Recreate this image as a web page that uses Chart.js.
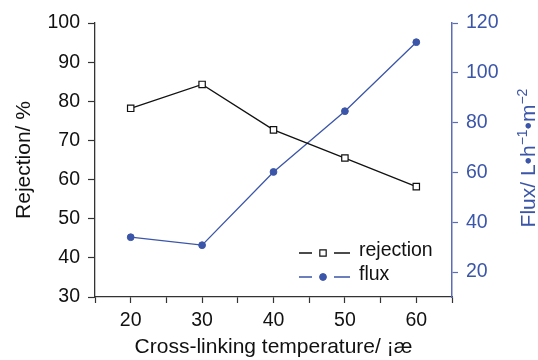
<!DOCTYPE html>
<html lang="en">
<head>
  <meta charset="UTF-8" />
  <title>Rejection and flux vs cross-linking temperature</title>
  <script src="https://cdn.jsdelivr.net/npm/chart.js"></script>
  <style>
    html, body { margin: 0; padding: 0; background: #fff; }
    #wrap { width: 538px; height: 360px; }
  </style>
</head>
<body>
  <div id="wrap"><canvas id="chart" width="538" height="360"></canvas></div>

  <script>
    // ---- data ----
    const temps = [20, 30, 40, 50, 60];
    const rejection = [78.2, 84.3, 72.7, 65.5, 58.2];
    const flux = [34.0, 30.8, 60.2, 84.6, 112.3];

    const xTitle = 'Cross-linking temperature/ \u00a1\u00e6';
    const leftTitle = 'Rejection/ %';
    // right title pieces: [text, superscript?]
    const rightTitle = [['Flux/ L\u2022h', false], ['\u22121', true], ['\u2022m', false], ['\u22122', true]];

    const BLACK = '#111111';
    const BLUE = '#3b55a8';
    const BLUE_AXIS = '#5b6db5';
    const FONT = 'Liberation Sans, Arial, sans-serif';
    const TICK_SIZE = 19.5;
    const TITLE_SIZE = 21;

    // legend drawn inside the plot, "— marker —  label"
    const innerLegend = {
      id: 'innerLegend',
      afterDraw(chart) {
        const ctx = chart.ctx;
        const rows = [253, 277];
        chart.data.datasets.forEach((ds, i) => {
          const y = rows[i];
          ctx.save();
          ctx.strokeStyle = ds.borderColor;
          ctx.lineWidth = 1.3;
          ctx.beginPath();
          ctx.moveTo(299, y); ctx.lineTo(312, y);
          ctx.moveTo(334, y); ctx.lineTo(350, y);
          ctx.stroke();
          ctx.fillStyle = ds.pointBackgroundColor;
          ctx.strokeStyle = ds.pointBorderColor;
          ctx.lineWidth = ds.pointBorderWidth;
          Chart.helpers.drawPoint(ctx, {
            pointStyle: ds.pointStyle, radius: ds.pointRadius, borderWidth: ds.pointBorderWidth
          }, 323, y);
          ctx.fillStyle = '#111';
          ctx.font = TICK_SIZE + 'px ' + FONT;
          ctx.textBaseline = 'middle';
          ctx.fillText(ds.label, 359, y - 2);
          ctx.restore();
        });
      }
    };

    // right-hand title reads bottom to top, with real superscripts
    const rightAxisTitle = {
      id: 'rightAxisTitle',
      afterDraw(chart) {
        const ctx = chart.ctx;
        const big = TITLE_SIZE + 'px ' + FONT;
        const small = '14px ' + FONT;
        ctx.save();
        let total = 0;
        rightTitle.forEach(([t, sup]) => { ctx.font = sup ? small : big; total += ctx.measureText(t).width; });
        ctx.translate(527, 158);
        ctx.rotate(-Math.PI / 2);
        ctx.fillStyle = BLUE;
        ctx.textBaseline = 'alphabetic';
        let x = -total / 2;
        rightTitle.forEach(([t, sup]) => {
          ctx.font = sup ? small : big;
          ctx.fillText(t, x, sup ? 0 : 7.5);
          x += ctx.measureText(t).width;
        });
        ctx.restore();
      }
    };

    new Chart(document.getElementById('chart'), {
      type: 'line',
      data: {
        datasets: [
          {
            label: 'rejection',
            data: temps.map((t, i) => ({ x: t, y: rejection[i] })),
            yAxisID: 'yL',
            borderColor: BLACK,
            borderWidth: 1.3,
            pointStyle: 'rect',
            pointRadius: 4.5,
            pointBorderWidth: 1.2,
            pointBackgroundColor: '#fff',
            pointBorderColor: BLACK,
            tension: 0
          },
          {
            label: 'flux',
            data: temps.map((t, i) => ({ x: t, y: flux[i] })),
            yAxisID: 'yR',
            borderColor: BLUE,
            borderWidth: 1.3,
            pointStyle: 'circle',
            pointRadius: 3.4,
            pointBorderWidth: 1,
            pointBackgroundColor: BLUE,
            pointBorderColor: BLUE,
            tension: 0
          }
        ]
      },
      options: {
        responsive: false,
        animation: false,
        layout: { padding: { top: 23, left: 0, right: 0, bottom: 0 } },
        plugins: {
          legend: { display: false },
          tooltip: { enabled: false }
        },
        scales: {
          x: {
            type: 'linear',
            min: 15, max: 65,
            afterFit(s) { s.height = 63; },
            ticks: {
              stepSize: 5,
              autoSkip: false,
              maxRotation: 0,
              padding: 6,
              color: '#111',
              font: { family: FONT, size: TICK_SIZE },
              callback: v => (v % 10 === 0 ? v : '')
            },
            grid: { drawOnChartArea: false, tickLength: 6, tickColor: '#333', tickWidth: 1.2 },
            border: { color: '#333', width: 1.3 },
            title: {
              display: true, text: xTitle, color: '#111',
              font: { family: FONT, size: TITLE_SIZE }, padding: { top: 0, bottom: 0 }
            }
          },
          yL: {
            position: 'left',
            min: 30, max: 100,
            afterFit(s) { s.width = 95; },
            ticks: {
              stepSize: 10, padding: 8, color: '#111',
              font: { family: FONT, size: TICK_SIZE }
            },
            grid: { drawOnChartArea: false, tickLength: 7, tickColor: '#333', tickWidth: 1.2 },
            border: { color: '#333', width: 1.3 },
            title: {
              display: true, text: leftTitle, color: '#111',
              font: { family: FONT, size: TITLE_SIZE }, padding: { top: 12, bottom: 0 }
            }
          },
          yR: {
            position: 'right',
            min: 10, max: 120,
            afterFit(s) { s.width = 86; },
            afterBuildTicks(s) { s.ticks = s.ticks.filter(t => t.value % 20 === 0); },
            ticks: {
              stepSize: 20, padding: 8, color: BLUE,
              font: { family: FONT, size: TICK_SIZE }
            },
            grid: { drawOnChartArea: false, tickLength: 6, tickColor: BLUE_AXIS, tickWidth: 1.2 },
            border: { color: BLUE_AXIS, width: 1.5 }
          }
        }
      },
      plugins: [innerLegend, rightAxisTitle]
    });
  </script>
</body>
</html>
